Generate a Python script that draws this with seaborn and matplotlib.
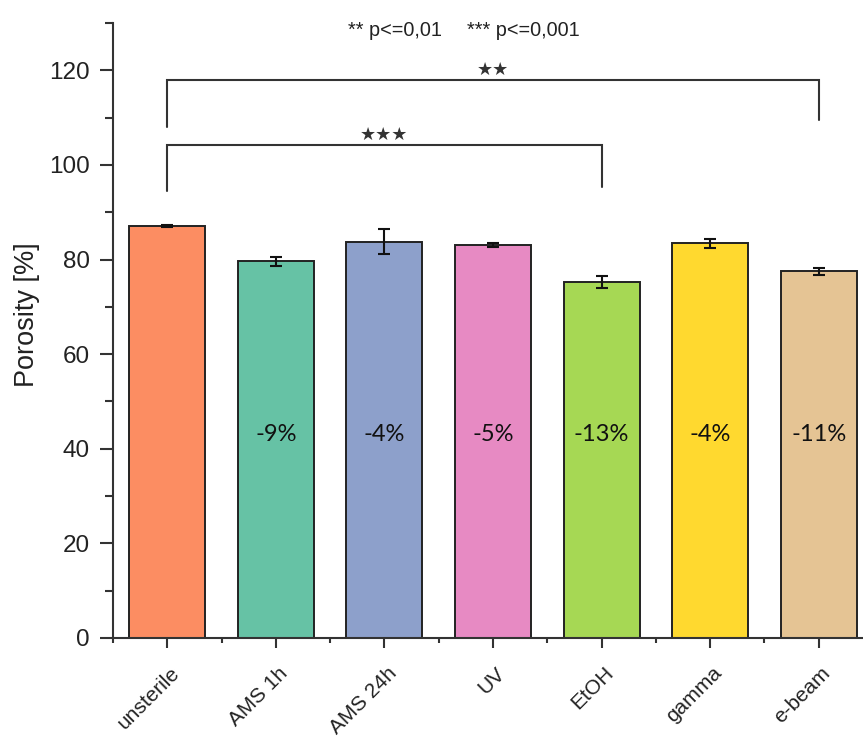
import matplotlib
matplotlib.use("Agg")
import matplotlib.pyplot as plt
from matplotlib.ticker import FixedLocator
from matplotlib.transforms import ScaledTranslation
import seaborn as sns
import pandas as pd

# Porosity of scaffolds after different sterilisation methods
categories = ["unsterile", "AMS 1h", "AMS 24h", "UV", "EtOH", "gamma", "e-beam"]
porosity = [87.1, 79.6, 83.8, 83.1, 75.3, 83.4, 77.5]
porosity_err = [0.3, 1.0, 2.6, 0.5, 1.3, 1.0, 0.8]
change_labels = ["", "-9%", "-4%", "-5%", "-13%", "-4%", "-11%"]
bar_colors = ["#FC8D62", "#66C2A5", "#8DA0CB", "#E78AC3", "#A6D854", "#FFD92F", "#E5C494"]

# significance brackets: (first group, second group, bar height, left leg end, right leg end, stars)
brackets = [
    ("unsterile", "EtOH", 104.2, 94.4, 95.4, "\u2605\u2605\u2605"),
    ("unsterile", "e-beam", 118.0, 108.1, 109.6, "\u2605\u2605"),
]
legend_parts = ["** p<=0,01", "*** p<=0,001"]

df = pd.DataFrame({"group": categories, "porosity": porosity})

sns.set_style("ticks")
plt.rcParams["font.family"] = ["Liberation Sans", "DejaVu Sans"]

W, H = 863, 738
fig = plt.figure(figsize=(W / 100, H / 100), dpi=100)
ax = fig.add_axes([113 / W, 1 - 638 / H, (873 - 113) / W, (638 - 23) / H])

sns.barplot(data=df, x="group", y="porosity", hue="group", palette=bar_colors,
            saturation=1, legend=False, width=0.70, edgecolor="#222222",
            linewidth=1.4, errorbar=None, ax=ax, zorder=2)

xpos = list(range(len(categories)))
ax.errorbar(xpos, porosity, yerr=porosity_err, fmt="none", ecolor="#111111",
            elinewidth=1.5, capsize=4.3, capthick=1.5, zorder=3)

for x, lab in zip(xpos, change_labels):
    if lab:
        ax.text(x, 43, lab, ha="center", va="center", fontsize=17,
                family=["Lato", "DejaVu Sans"], color="#111111", zorder=4)

for a, b, top, yl, yr, stars in brackets:
    i, j = categories.index(a), categories.index(b)
    ax.plot([i, i, j, j], [yl, top, top, yr], color="#333333", lw=1.5,
            solid_joinstyle="miter", zorder=4, clip_on=False)
    ax.text((i + j) / 2, top + 0.2, stars, ha="center", va="bottom",
            fontsize=13, family=["DejaVu Sans"], color="#333333")

ax.set_xlim(-0.5, 6.5)
ax.set_ylim(0, 130)
ax.yaxis.set_major_locator(FixedLocator([0, 20, 40, 60, 80, 100, 120]))
ax.yaxis.set_minor_locator(FixedLocator([10, 30, 50, 70, 90, 110, 130]))
ax.xaxis.set_minor_locator(FixedLocator([x + 0.5 for x in range(-1, len(categories))]))

ax.tick_params(axis="y", which="major", length=9.5, width=1.5, color="#333333",
               labelsize=17.5, labelcolor="#222222", pad=7)
ax.tick_params(axis="y", which="minor", length=5.8, width=1.5, color="#333333")
ax.tick_params(axis="x", which="major", length=7.2, width=1.5, color="#333333",
               labelsize=15, labelcolor="#222222", pad=16)
ax.tick_params(axis="x", which="minor", length=3.5, width=1.5, color="#333333")
shift = ScaledTranslation(9 / 100, 0, fig.dpi_scale_trans)
for lab in ax.get_xticklabels():
    lab.set_rotation(45)
    lab.set_ha("right")
    lab.set_va("center")
    lab.set_rotation_mode("anchor")
    lab.set_transform(lab.get_transform() + shift)

for s in ("left", "bottom"):
    ax.spines[s].set_linewidth(1.5)
    ax.spines[s].set_color("#333333")
sns.despine(ax=ax)

ax.set_xlabel("")
ax.set_ylabel("Porosity [%]", fontsize=19.5, color="#222222")
ax.yaxis.set_label_coords((40 - 113) / 760, (638 - 315) / 615)

fig.text(348 / W, 1 - 30 / H, legend_parts[0], ha="left", va="center",
         fontsize=14.3, color="#222222")
fig.text(467 / W, 1 - 30 / H, legend_parts[1], ha="left", va="center",
         fontsize=14.3, color="#222222")

fig.savefig("out.png", dpi=100)
